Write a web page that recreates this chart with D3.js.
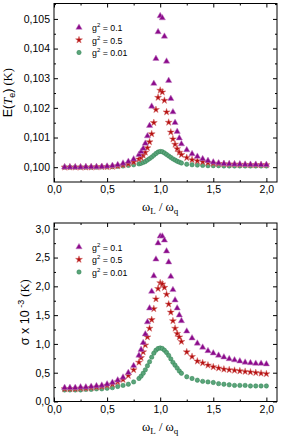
<!DOCTYPE html>
<html>
<head>
<meta charset="utf-8">
<script src="https://cdn.jsdelivr.net/npm/d3@7"></script>
<style>
  body { margin: 0; background: #fff; }
  text { font-family: "Liberation Sans", Arial, sans-serif; }
</style>
</head>
<body>
<div id="chart"></div>
<script>
// x values (omega_L / omega_q)
const xs = [0.10,0.15,0.20,0.25,0.30,0.35,0.40,0.45,0.50,0.55,0.60,0.65,0.70,0.75,
  0.80,0.82,0.84,0.86,0.88,0.90,0.92,0.94,0.96,0.98,1.00,1.02,1.04,1.06,1.08,1.10,1.12,1.14,1.16,1.18,1.20,
  1.25,1.30,1.35,1.40,1.45,1.50,1.55,1.60,1.65,1.70,1.75,1.80,1.85,1.90,1.95,2.00];

// top panel: E(Te) (K)
const topTri = [0.10000,0.10000,0.10000,0.10000,0.10001,0.10001,0.10001,0.10002,0.10003,0.10005,0.10008,0.10013,0.10019,0.10027,
  0.10042,0.10052,0.10063,0.10080,0.10105,0.10140,0.10205,0.10282,0.10366,0.10456,0.10510,0.10503,0.10441,0.10357,0.10292,0.10231,0.10186,0.10150,0.10120,0.10098,0.10078,
  0.10058,0.10045,0.10036,0.10028,0.10022,0.10017,0.10014,0.10012,0.10011,0.10010,0.10010,0.10009,0.10009,0.10009,0.10008,0.10008];
const topStar = [0.10000,0.10000,0.10000,0.10000,0.10000,0.10000,0.10001,0.10001,0.10001,0.10002,0.10004,0.10007,0.10011,0.10017,
  0.10027,0.10032,0.10040,0.10050,0.10065,0.10085,0.10112,0.10150,0.10194,0.10235,0.10259,0.10253,0.10225,0.10186,0.10151,0.10118,0.10095,0.10077,0.10062,0.10050,0.10042,
  0.10032,0.10025,0.10021,0.10018,0.10015,0.10013,0.10012,0.10011,0.10010,0.10010,0.10009,0.10009,0.10008,0.10008,0.10008,0.10008];
const topCirc = [0.10000,0.10000,0.10000,0.10000,0.10000,0.10000,0.10000,0.10001,0.10001,0.10002,0.10003,0.10004,0.10006,0.10008,
  0.10011,0.10013,0.10016,0.10019,0.10024,0.10029,0.10034,0.10040,0.10046,0.10051,0.10053,0.10052,0.10048,0.10043,0.10038,0.10033,0.10028,0.10024,0.10020,0.10017,0.10014,
  0.10010,0.10008,0.10007,0.10006,0.10005,0.10005,0.10005,0.10004,0.10004,0.10004,0.10004,0.10004,0.10004,0.10004,0.10004,0.10004];

// bottom panel: sigma x 10^-3 (K)
const botTri = [0.24,0.24,0.24,0.25,0.25,0.26,0.27,0.28,0.30,0.33,0.37,0.42,0.50,0.62,
  0.80,0.90,1.02,1.17,1.38,1.62,1.91,2.18,2.47,2.75,2.87,2.87,2.80,2.61,2.42,2.17,1.94,1.76,1.62,1.50,1.40,
  1.22,1.10,1.01,0.94,0.88,0.84,0.80,0.77,0.74,0.72,0.70,0.68,0.67,0.66,0.66,0.65];
const botStar = [0.22,0.22,0.22,0.23,0.23,0.24,0.25,0.26,0.28,0.30,0.34,0.38,0.45,0.55,
  0.68,0.76,0.86,0.98,1.12,1.27,1.42,1.61,1.78,1.96,2.06,2.04,1.98,1.86,1.69,1.55,1.40,1.27,1.18,1.12,1.04,
  0.86,0.78,0.70,0.67,0.63,0.60,0.58,0.56,0.55,0.54,0.53,0.52,0.51,0.50,0.49,0.48];
const botCirc = [0.20,0.20,0.20,0.20,0.21,0.21,0.22,0.22,0.23,0.24,0.26,0.28,0.30,0.34,
  0.40,0.44,0.49,0.55,0.62,0.69,0.77,0.84,0.89,0.92,0.93,0.92,0.89,0.85,0.80,0.74,0.68,0.63,0.58,0.53,0.49,
  0.43,0.40,0.37,0.35,0.34,0.33,0.31,0.30,0.29,0.28,0.28,0.28,0.27,0.27,0.27,0.27];

const legendLabels = ["0.1", "0.5", "0.01"];
const xTicks = [0, 0.5, 1.0, 1.5, 2.0];
const xMinor = [0.25, 0.75, 1.25, 1.75];
const topYTicks = [0.100, 0.101, 0.102, 0.103, 0.104, 0.105];
const topYMinor = [0.1005, 0.1015, 0.1025, 0.1035, 0.1045, 0.1055];
const botYTicks = [0, 0.5, 1.0, 1.5, 2.0, 2.5, 3.0];
const botYMinor = [0.25, 0.75, 1.25, 1.75, 2.25, 2.75];

const W = 281, H = 438;
const left = 54, plotW = 223;

const svg = d3.select('#chart').append('svg')
  .attr('width', W).attr('height', H);

const styles = [
  { sym: d3.symbolTriangle, size: 17, fill: '#8b0a8b', stroke: '#c27ec2' },
  { sym: d3.symbolStar, size: 15, fill: '#b50f0f', stroke: '#d46a6a' },
  { sym: d3.symbolCircle, size: 15, fill: '#5aa57a', stroke: '#2f8150' }
];

function comma(f) { return d => f(d).replace('.', ','); }

function panel(cfg) {
  const h = cfg.h;
  const g = svg.append('g').attr('transform', `translate(${left},${cfg.top})`);
  const x = d3.scaleLinear().domain([0, 2.1]).range([0, plotW]);
  const y = d3.scaleLinear().domain(cfg.yDomain).range([h, 0]);

  // data: circles first, then stars, triangles on top
  const series = [cfg.circ, cfg.star, cfg.tri];
  const sIdx = [2, 1, 0];
  series.forEach((vals, k) => {
    const st = styles[sIdx[k]];
    g.append('g').selectAll('path')
      .data(xs.map((v, i) => [v, vals[i]]))
      .enter().append('path')
      .attr('transform', d => `translate(${x(d[0])},${y(d[1])})`)
      .attr('d', d3.symbol().type(st.sym).size(st.size))
      .attr('fill', st.fill)
      .attr('stroke', st.stroke)
      .attr('stroke-width', 0.5);
  });

  // frame
  g.append('rect').attr('width', plotW).attr('height', h)
    .attr('fill', 'none').attr('stroke', '#000').attr('stroke-width', 1);

  // axes (inward ticks)
  g.append('g').attr('transform', `translate(0,${h})`)
    .call(d3.axisBottom(x).tickValues(xTicks).tickSize(-4).tickPadding(4).tickFormat(comma(d3.format('.1f'))));
  g.append('g').attr('transform', `translate(0,${h})`)
    .call(d3.axisBottom(x).tickValues(xMinor).tickSize(-2).tickFormat(''));
  g.append('g').call(d3.axisTop(x).tickValues(xTicks).tickSize(-4).tickFormat(''));
  g.append('g').call(d3.axisTop(x).tickValues(xMinor).tickSize(-2).tickFormat(''));

  g.append('g')
    .call(d3.axisLeft(y).tickValues(cfg.yTicks).tickSize(-4).tickPadding(4).tickFormat(comma(d3.format(cfg.fmt))));
  g.append('g').call(d3.axisLeft(y).tickValues(cfg.yMinor).tickSize(-2).tickFormat(''));
  g.append('g').attr('transform', `translate(${plotW},0)`)
    .call(d3.axisRight(y).tickValues(cfg.yTicks).tickSize(-4).tickFormat(''));
  g.append('g').attr('transform', `translate(${plotW},0)`)
    .call(d3.axisRight(y).tickValues(cfg.yMinor).tickSize(-2).tickFormat(''));

  g.selectAll('.domain').remove();
  g.selectAll('.tick line').attr('stroke', '#000');
  g.selectAll('.tick text').attr('font-size', 10.5).attr('fill', '#000')
    .style('font-family', '"Liberation Sans", Arial, sans-serif');

  // legend
  legendLabels.forEach((lab, i) => {
    const st = styles[i];
    const ly0 = 24 + i * 12.5;
    g.append('path')
      .attr('transform', `translate(25,${ly0})`)
      .attr('d', d3.symbol().type(st.sym).size(st.size))
      .attr('fill', st.fill).attr('stroke', st.stroke).attr('stroke-width', 0.5);
    const t = g.append('text').attr('x', 38).attr('y', ly0 + 3.5)
      .attr('font-size', 8.8).attr('fill', '#000');
    t.append('tspan').text('g');
    t.append('tspan').attr('font-size', 6).attr('dy', -4).text('2');
    t.append('tspan').attr('dy', 4).text(' = ' + lab);
  });

  // x title
  const xt = svg.append('text')
    .attr('x', left + x(1.0)).attr('y', cfg.top + h + 29)
    .attr('text-anchor', 'middle').attr('font-size', 12.5)
    .style('font-family', '"Liberation Serif", "DejaVu Serif", serif');
  xt.append('tspan').text('ω');
  xt.append('tspan').attr('font-size', 9).attr('dy', 3).text('L');
  xt.append('tspan').attr('dy', -3).text(' / ω');
  xt.append('tspan').attr('font-size', 9).attr('dy', 3).text('q');

  cfg.ytitle(svg.append('text')
    .attr('transform', `translate(${cfg.ytx},${cfg.top + h / 2}) rotate(-90)`)
    .attr('text-anchor', 'middle').attr('font-size', 12.5).attr('fill', '#000'));
}

panel({
  top: 3.5, h: 178.5,
  yDomain: [0.0995, 0.10552],
  yTicks: topYTicks, yMinor: topYMinor, fmt: '.3f',
  tri: topTri, star: topStar, circ: topCirc,
  ytx: 12,
  ytitle: t => {
    t.append('tspan').text('E(');
    t.append('tspan').style('font-family', '"Liberation Serif", serif').attr('font-style', 'italic').text('T');
    t.append('tspan').attr('font-size', 9).attr('dy', 3).text('e');
    t.append('tspan').attr('dy', -3).text(')');
    t.append('tspan').style('font-family', '"Liberation Serif", serif').text(' (K)');
  }
});

panel({
  top: 223, h: 178.5,
  yDomain: [0, 3.1],
  yTicks: botYTicks, yMinor: botYMinor, fmt: '.1f',
  tri: botTri, star: botStar, circ: botCirc,
  ytx: 29,
  ytitle: t => {
    t.append('tspan').text('σ x 10');
    t.append('tspan').attr('font-size', 9).attr('dy', -5).text(' -3');
    t.append('tspan').attr('dy', 5).style('font-family', '"Liberation Serif", serif').text(' (K)');
  }
});
</script>
</body>
</html>
